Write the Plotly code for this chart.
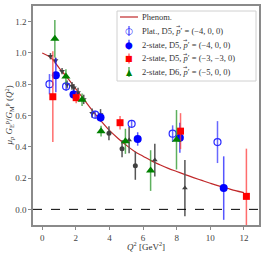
import plotly.graph_objects as go

# Phenomenological curve
phen_q2 = [0, 0.5, 1, 1.5, 2, 2.5, 3, 3.5, 4, 4.5, 5, 5.5, 6, 6.5, 7, 7.5, 8, 8.5, 9, 9.5, 10, 10.5, 11, 11.5, 12]
phen_r = [1.0, 0.97, 0.905, 0.84, 0.77, 0.70, 0.63, 0.565, 0.505, 0.455, 0.41, 0.37, 0.34, 0.31, 0.285,
          0.262, 0.242, 0.222, 0.203, 0.185, 0.167, 0.15, 0.135, 0.12, 0.107]

# Experimental data (gray)
exp1_q2 = [0.49, 0.79, 1.18, 1.48, 1.77, 1.88, 2.13, 2.47, 2.97, 3.47]
exp1_r = [0.979, 0.951, 0.883, 0.798, 0.789, 0.777, 0.747, 0.703, 0.615, 0.606]
exp1_e = [0.02, 0.02, 0.02, 0.025, 0.025, 0.025, 0.03, 0.03, 0.03, 0.035]

exp2_q2 = [3.97, 4.75, 5.54]
exp2_r = [0.487, 0.388, 0.279]
exp2_e = [0.045, 0.055, 0.09]

exp3_q2 = [5.17, 6.70, 8.49]
exp3_r = [0.443, 0.315, 0.136]
exp3_e = [0.085, 0.105, 0.18]

# Lattice results
plat_q2 = [0.43, 1.42, 3.15, 5.32, 7.76, 10.43]
plat_r = [0.80, 0.786, 0.605, 0.547, 0.484, 0.43]
plat_e = [0.065, 0.03, 0.025, 0.025, 0.053, 0.134]

d5a_q2 = [0.81, 1.86, 3.47, 5.68, 8.19, 10.80]
d5a_r = [0.858, 0.735, 0.588, 0.45, 0.458, 0.136]
d5a_e = [0.11, 0.03, 0.03, 0.043, 0.096, 0.203]

d5b_q2 = [0.63, 2.02, 4.63, 8.23, 12.15]
d5b_r = [0.72, 0.714, 0.554, 0.50, 0.083]
d5b_e = [0.29, 0.035, 0.043, 0.115, 0.305]

d6_q2 = [0.75, 1.41, 2.37, 3.50, 4.95, 6.45, 7.99]
d6_r = [1.09, 0.85, 0.70, 0.50, 0.435, 0.248, 0.445]
d6_e = [0.12, 0.045, 0.04, 0.035, 0.08, 0.13, 0.19]

legend_prefix = ["Plat., D5, ", "2-state, D5, ", "2-state, D5, ", "2-state, D6, "]
legend_mom = ["(−4, 0, 0)", "(−4, 0, 0)", "(−3, −3, 0)", "(−5, 0, 0)"]
legend_labels = ["Phenom."] + [p + "<i>p</i>′ = " + m for p, m in zip(legend_prefix, legend_mom)]

FONT = "Liberation Serif"
LFS = 8.5
W, H = 266, 256
ML, MR, MT, MB = 33, 7, 6, 31
PW, PH = W - ML - MR, H - MT - MB

# Times-like advance widths (per 1000 em) used to place the vector arrow over p
ADV = {"P": 556, "l": 278, "a": 444, "t": 278, ".": 250, ",": 250, " ": 250, "D": 722,
       "5": 500, "6": 500, "2": 500, "-": 333, "s": 389, "e": 444}


def px(x):
    return (x - ML) / PW


def py(y):
    return (H - MB - y) / PH


C_PHEN = "#c0282a"
C_PLAT = "#2a2aff"
C_D5A = "#0000ff"
C_D5B = "#ff0000"
C_D6 = "#008000"
E_PLAT = "rgba(40,40,255,0.7)"
E_D5A = "rgba(30,30,255,0.75)"
E_D5B = "rgba(255,60,60,0.75)"
E_D6 = "rgba(40,150,40,0.75)"

fig = go.Figure()

fig.add_trace(go.Scatter(x=phen_q2, y=phen_r, mode="lines", name=legend_labels[0], showlegend=False,
                         line=dict(color=C_PHEN, width=1.2, shape="spline")))

for q, r, e, sym in [(exp1_q2, exp1_r, exp1_e, "triangle-down"),
                     (exp2_q2, exp2_r, exp2_e, "circle"),
                     (exp3_q2, exp3_r, exp3_e, "triangle-up")]:
    fig.add_trace(go.Scatter(x=q, y=r, mode="markers", showlegend=False,
                             marker=dict(symbol=sym, size=5, color="#404040"),
                             error_y=dict(type="data", array=e, color="#555555", thickness=1.5, width=0)))

fig.add_trace(go.Scatter(x=plat_q2, y=plat_r, mode="markers", name=legend_labels[1], showlegend=False,
                         marker=dict(symbol="circle-open", size=7, color=C_PLAT, line=dict(width=1.2)),
                         error_y=dict(type="data", array=plat_e, color=E_PLAT, thickness=1.5, width=0)))
fig.add_trace(go.Scatter(x=d5a_q2, y=d5a_r, mode="markers", name=legend_labels[2], showlegend=False,
                         marker=dict(symbol="circle", size=8, color=C_D5A),
                         error_y=dict(type="data", array=d5a_e, color=E_D5A, thickness=1.5, width=0)))
fig.add_trace(go.Scatter(x=d5b_q2, y=d5b_r, mode="markers", name=legend_labels[3], showlegend=False,
                         marker=dict(symbol="square", size=7, color=C_D5B),
                         error_y=dict(type="data", array=d5b_e, color=E_D5B, thickness=1.5, width=0)))
fig.add_trace(go.Scatter(x=d6_q2, y=d6_r, mode="markers", name=legend_labels[4], showlegend=False,
                         marker=dict(symbol="triangle-up", size=8, color=C_D6),
                         error_y=dict(type="data", array=d6_e, color=E_D6, thickness=1.5, width=0)))

fig.add_hline(y=0, line=dict(color="black", width=1, dash="dash"))

# ---- custom compact legend (matplotlib style) ----
fig.add_shape(type="rect", xref="paper", yref="paper", x0=px(117), x1=px(256), y0=py(81), y1=py(11),
              line=dict(color="#d0d0d0", width=1), fillcolor="rgba(255,255,255,0.85)", layer="above")
rows_y = [17, 31, 44.7, 58.4, 72]
TX = 140
fig.add_shape(type="line", xref="paper", yref="paper", x0=px(120), x1=px(138), y0=py(rows_y[0]), y1=py(rows_y[0]),
              line=dict(color=C_PHEN, width=1.2), layer="above")
sym_specs = [("○", C_PLAT, E_PLAT, 9), ("●", C_D5A, E_D5A, 9), ("■", C_D5B, E_D5B, 8), ("▲", C_D6, E_D6, 8)]
for (ch, col, ecol, sz), yy in zip(sym_specs, rows_y[1:]):
    fig.add_shape(type="line", xref="paper", yref="paper", x0=px(129), x1=px(129), y0=py(yy + 5), y1=py(yy - 5),
                  line=dict(color=ecol, width=1.5), layer="above")
    fig.add_annotation(x=px(129), y=py(yy), xref="paper", yref="paper", text=ch, showarrow=False,
                       font=dict(family="DejaVu Sans", size=sz, color=col), xanchor="center", yanchor="middle")
for lab, yy in zip(legend_labels, rows_y):
    fig.add_annotation(x=px(TX), y=py(yy), xref="paper", yref="paper", text=lab, showarrow=False,
                       font=dict(family=FONT, size=LFS, color="#333333"), xanchor="left", yanchor="middle")
# vector arrows over p
for pre, yy in zip(legend_prefix, rows_y[1:]):
    w = sum(ADV.get(c, 500) for c in pre) * LFS / 1000.0
    fig.add_annotation(x=px(TX + 1 + w + 2.6), y=py(yy - 4.6), xref="paper", yref="paper", text="→",
                       showarrow=False, font=dict(family="DejaVu Sans", size=5, color="#333333"),
                       xanchor="center", yanchor="middle")

# axis titles
fig.add_annotation(x=0.5, y=py(246), xref="paper", yref="paper",
                   text="<i>Q</i><sup>2</sup> [GeV<sup>2</sup>]", showarrow=False,
                   font=dict(family=FONT, size=9, color="#333333"), xanchor="center", yanchor="middle")
fig.add_annotation(x=px(9), y=0.5, xref="paper", yref="paper", textangle=-90,
                   text="<i>μ<sub>p</sub> G</i><sub>E</sub><sup>p</sup>/<i>G</i><sub>M</sub><sup>p</sup> (<i>Q</i><sup>2</sup>)",
                   showarrow=False, font=dict(family=FONT, size=9, color="#333333"),
                   xanchor="center", yanchor="middle")

axis_common = dict(showline=True, mirror=True, linecolor="#8a8a8a", linewidth=1.5,
                   ticks="outside", ticklen=3, tickcolor="#8a8a8a", showgrid=False, zeroline=False,
                   tickfont=dict(family=FONT, size=9, color="#444444"))

fig.update_layout(
    width=W, height=H,
    margin=dict(l=ML, r=MR, t=MT, b=MB, autoexpand=False),
    plot_bgcolor="white", paper_bgcolor="white",
    font=dict(family=FONT, color="#333333"),
    showlegend=False,
    xaxis=dict(range=[-0.55, 12.9], tickvals=[0, 2, 4, 6, 8, 10, 12], **axis_common),
    yaxis=dict(range=[-0.1, 1.3], tickvals=[0, 0.2, 0.4, 0.6, 0.8, 1.0, 1.2], tickformat=".1f", **axis_common),
)

fig.write_html("out.html", config={"displayModeBar": False},
               post_script="document.body.style.margin='0';document.body.style.overflow='hidden';")
